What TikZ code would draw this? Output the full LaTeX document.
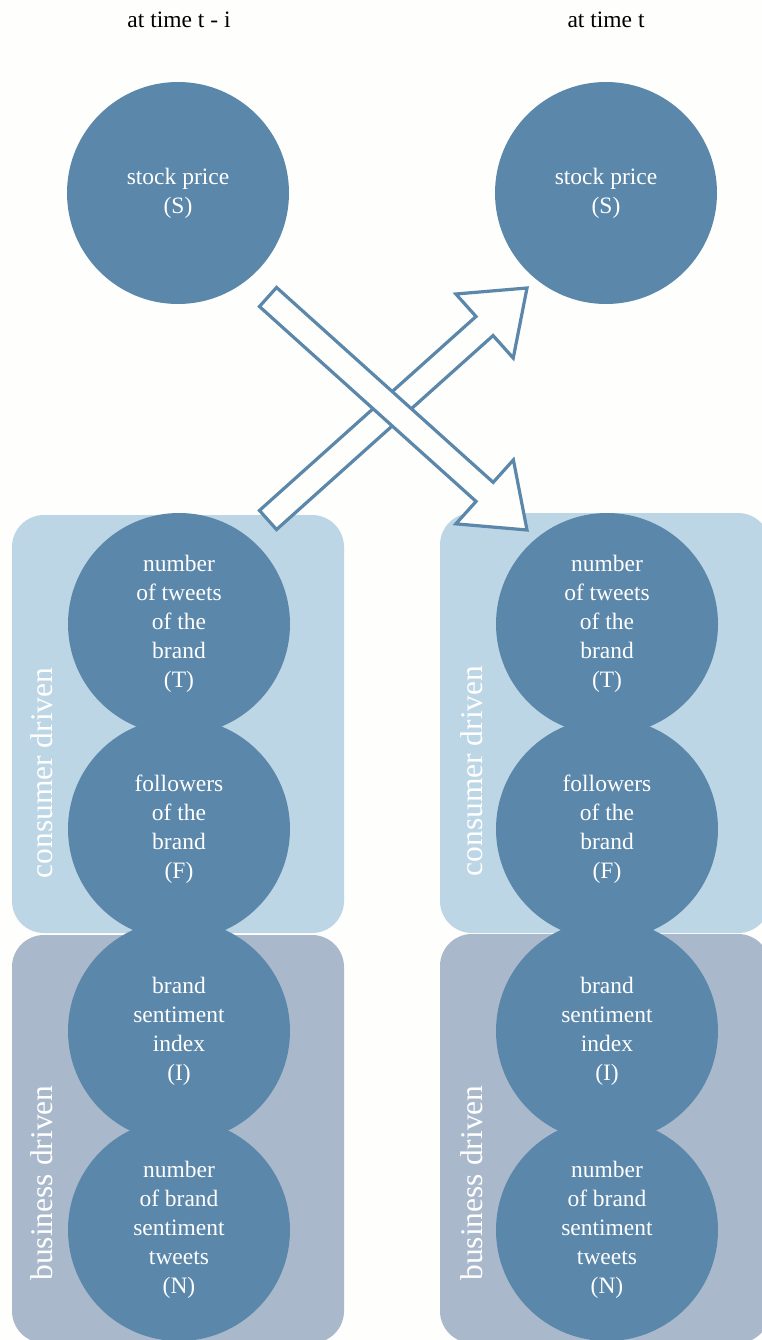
\documentclass[tikz,border=0pt]{standalone}
\usepackage{fontspec}
\setmainfont{Liberation Serif}
\usetikzlibrary{calc}

\definecolor{nodeblue}{RGB}{91,135,170}
\definecolor{consumerbg}{RGB}{189,214,229}
\definecolor{businessbg}{RGB}{169,185,203}
\definecolor{paper}{RGB}{254,254,252}

% outlined block arrow from coordinate #1 to coordinate #2
\newcommand{\blockarrow}[2]{%
  \coordinate (#1-head) at ($(#2)!57pt!(#1)$);
  \draw[arrowline]
    ($(#1)!12.8pt!90:(#2)$) -- ($(#1-head)!12.8pt!90:(#2)$)
    -- ($(#1-head)!43pt!90:(#2)$) -- (#2)
    -- ($(#1-head)!43pt!-90:(#2)$) -- ($(#1-head)!12.8pt!-90:(#2)$)
    -- ($(#1)!12.8pt!-90:(#2)$) -- cycle;}

\begin{document}
\begin{tikzpicture}[x=1pt,y=-1pt,
  varnode/.style={circle, fill=nodeblue, minimum size=222pt, inner sep=0pt,
    text=white, align=center, font=\fontsize{23.5}{29}\selectfont},
  groupbox/.style={rounded corners=32pt},
  grouplabel/.style={rotate=90, anchor=base, text=white,
    font=\fontsize{31.5}{36}\selectfont},
  header/.style={font=\fontsize{23.5}{29}\selectfont},
  arrowline/.style={draw=nodeblue, line width=3.2pt, fill=paper, line join=miter}]

\clip (0,0) rectangle (762,1340);
\fill[paper] (0,0) rectangle (762,1340);

% column headings
\node[header] (hprev) at (179,20) {at time t - i};
\node[header] (hnow)  at (606,20) {at time t};

% group backgrounds
\fill[consumerbg, groupbox] (12,515) rectangle (344,933);
\fill[businessbg, groupbox] (12,935) rectangle (344,1343);
\fill[consumerbg, groupbox] (440,513) rectangle (770,933);
\fill[businessbg, groupbox] (440,934) rectangle (770,1343);

\node[grouplabel] (cprev) at (52,773)  {consumer driven};
\node[grouplabel] (bprev) at (52,1183) {business driven};
\node[grouplabel] (cnow)  at (482,771) {consumer driven};
\node[grouplabel] (bnow)  at (482,1183) {business driven};

% variables at time t - i
\node[varnode] (Sprev) at (178,193)  {stock price\\(S)};
\node[varnode] (Tprev) at (179,624)  {number\\of tweets\\of the\\brand\\(T)};
\node[varnode] (Fprev) at (179,829)  {followers\\of the\\brand\\(F)};
\node[varnode] (Iprev) at (179,1031) {brand\\sentiment\\index\\(I)};
\node[varnode] (Nprev) at (179,1230) {number\\of brand\\sentiment\\tweets\\(N)};

% variables at time t
\node[varnode] (Snow) at (606,193)  {stock price\\(S)};
\node[varnode] (Tnow) at (607,624)  {number\\of tweets\\of the\\brand\\(T)};
\node[varnode] (Fnow) at (607,829)  {followers\\of the\\brand\\(F)};
\node[varnode] (Inow) at (607,1031) {brand\\sentiment\\index\\(I)};
\node[varnode] (Nnow) at (607,1230) {number\\of brand\\sentiment\\tweets\\(N)};

% cross-lagged influence arrows
\coordinate (upTail)   at (268,520);
\coordinate (upTip)    at (527,288);
\coordinate (downTail) at (268,297);
\coordinate (downTip)  at (527,530);
\blockarrow{upTail}{upTip}
\blockarrow{downTail}{downTip}
\end{tikzpicture}
\end{document}
